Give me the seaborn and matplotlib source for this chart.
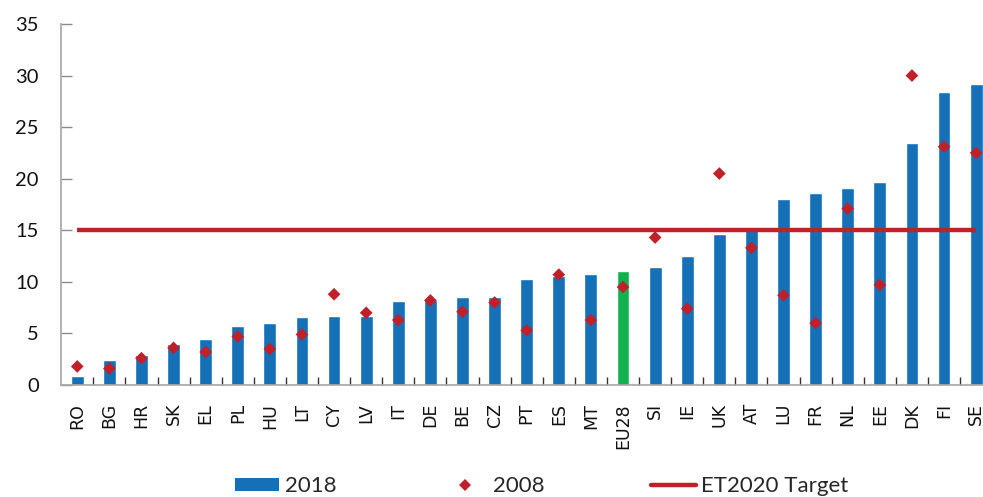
import numpy as np
import pandas as pd
import matplotlib
matplotlib.use("Agg")
import matplotlib.pyplot as plt
from matplotlib.lines import Line2D
from matplotlib.patches import Patch
import seaborn as sns

# Early leavers share by country, 2018 vs 2008, with the ET2020 target
countries = ["RO", "BG", "HR", "SK", "EL", "PL", "HU", "LT", "CY", "LV", "IT",
             "DE", "BE", "CZ", "PT", "ES", "MT", "EU28", "SI", "IE", "UK", "AT",
             "LU", "FR", "NL", "EE", "DK", "FI", "SE"]
values_2018 = [0.9, 2.4, 2.9, 4.0, 4.5, 5.7, 6.0, 6.6, 6.7, 6.7, 8.1,
               8.2, 8.5, 8.5, 10.3, 10.6, 10.8, 11.1, 11.4, 12.5, 14.6, 15.0,
               18.0, 18.6, 19.1, 19.7, 23.5, 28.4, 29.2]
values_2008 = [1.8, 1.6, 2.6, 3.6, 3.2, 4.7, 3.5, 4.9, 8.8, 7.0, 6.3,
               8.2, 7.1, 8.0, 5.3, 10.7, 6.3, 9.5, 14.3, 7.4, 20.5, 13.3,
               8.7, 6.0, 17.1, 9.7, 30.0, 23.1, 22.5]
target_value = 15
y_ticks = [0, 5, 10, 15, 20, 25, 30, 35]

BLUE = "#1570B8"
GREEN = "#12B04E"
RED = "#C0202A"

sns.set_style("white")
plt.rcParams["font.family"] = ["Lato", "DejaVu Sans"]

df = pd.DataFrame({"country": countries, "y2018": values_2018, "y2008": values_2008})
df["pos"] = np.arange(len(df))
bar_colors = [GREEN if c == "EU28" else BLUE for c in countries]

fig = plt.figure(figsize=(9.83, 4.97), dpi=100)
ax = fig.add_axes([61.2 / 983, 112 / 497, 931 / 983, 361 / 497])

sns.barplot(data=df, x="country", y="y2018", hue="country", palette=bar_colors,
            width=0.4, legend=False, saturation=1, ax=ax, zorder=2)

# Target line runs from the first to the last category
sns.lineplot(x=df["pos"], y=[target_value] * len(df), color=RED, linewidth=3.2,
             ax=ax, zorder=3, solid_capstyle="butt")

ax.scatter(df["pos"], df["y2008"], marker="D", s=42, color=RED,
           edgecolors="none", zorder=4)

ax.set_xlim(-0.5, len(df) - 0.5)
ax.set_ylim(0, 35)
ax.set_yticks(y_ticks)
ax.set_xlabel("")
ax.set_ylabel("")

ax.set_xticks(df["pos"])
ax.set_xticklabels(countries, rotation=90, fontsize=12.5, family="DejaVu Sans",
                   color="#111111")
ax.set_xticks(np.arange(len(df) - 1) + 0.5, minor=True)
ax.tick_params(axis="x", which="major", length=0, pad=13)
ax.tick_params(axis="x", which="minor", direction="in", length=6, width=1,
               color="#333333", bottom=True)
ax.tick_params(axis="y", direction="in", length=8, width=1, color="#8C8C8C",
               labelsize=14.5, pad=16, left=True, labelcolor="#111111")

for side in ("top", "right"):
    ax.spines[side].set_visible(False)
for side in ("left", "bottom"):
    ax.spines[side].set_color("#A6A6A6")
    ax.spines[side].set_linewidth(1.2)

handles = [
    Patch(facecolor=BLUE, edgecolor="none", label="2018"),
    Line2D([], [], marker="D", color=RED, linestyle="none", markersize=6.5,
           markeredgewidth=0, label="2008"),
    Line2D([], [], color=RED, linewidth=3.2, label="ET2020 Target"),
]
fig.legend(handles=handles, loc="center", bbox_to_anchor=(0.551, 0.022),
           ncol=3, frameon=False, fontsize=16, handlelength=2.0,
           handleheight=0.55, handletextpad=0.25, columnspacing=4.8)

fig.savefig("out.png", dpi=100)
